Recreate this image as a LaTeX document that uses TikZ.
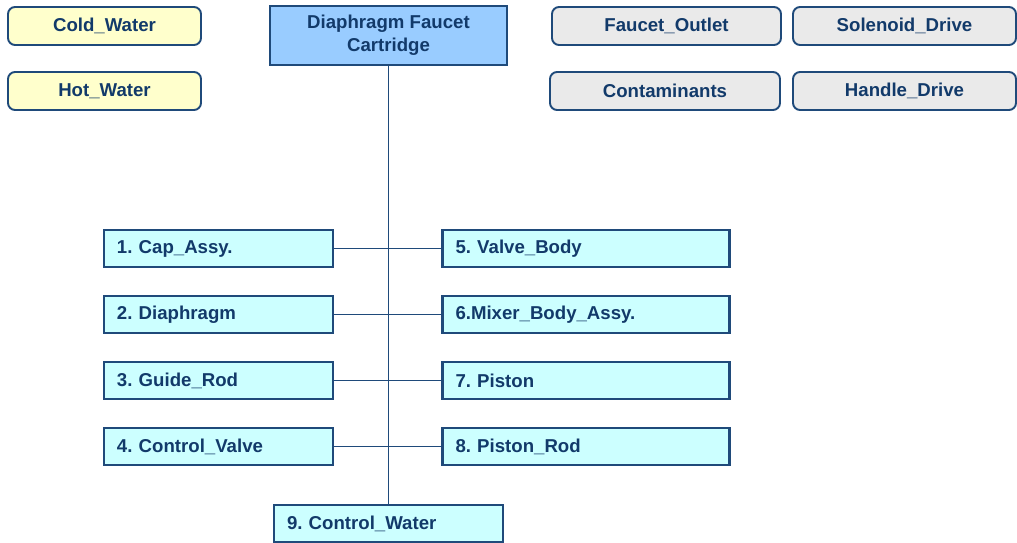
\documentclass[tikz,border=0pt]{standalone}
\usepackage{fontspec}
\setmainfont{Liberation Sans}
\usepackage{tikz}
\usepackage{xcolor}
\usetikzlibrary{positioning}

\definecolor{linec}{HTML}{1F4A7A}
\definecolor{textc}{HTML}{123A6A}
\definecolor{yellowfill}{HTML}{FFFFCC}
\definecolor{grayfill}{HTML}{EAEAEA}
\definecolor{cyanfill}{HTML}{CCFFFF}
\definecolor{cartfill}{HTML}{99CCFF}

\frenchspacing

\begin{document}
\begin{tikzpicture}[-,auto,node distance=1.32cm,
                    every node/.style={text=textc,font=\fontsize{10.6}{13}\selectfont\bfseries},
                    input node/.style={rectangle,rounded corners=4pt,draw=linec,line width=1.1pt,
                                       fill=yellowfill,minimum width=3.86cm,minimum height=0.76cm},
                    env node/.style={rectangle,rounded corners=4pt,draw=linec,line width=1.1pt,
                                     fill=grayfill,minimum width=#1,minimum height=0.76cm},
                    top node/.style={rectangle,draw=linec,line width=1.6pt,fill=cartfill,
                                     minimum width=4.74cm,minimum height=1.18cm,align=center},
                    part node/.style={rectangle,draw=linec,line width=1.2pt,fill=cyanfill,
                                      minimum height=0.74cm,text width=#1,align=left,inner xsep=0.26cm}]

  \useasboundingbox (0,0) rectangle (20.34,-10.86);

  \node[input node] (cold) at (2.09,-0.52) {Cold\_Water};
  \node[input node] (hot) at (2.09,-1.82) {Hot\_Water};
  \node[top node] (cart) at (7.77,-0.71) {Diaphragm Faucet\\Cartridge};
  \node[env node=4.58cm] (outlet) at (13.33,-0.52) {Faucet\_Outlet};
  \node[env node=4.46cm] (solenoid) at (18.09,-0.52) {Solenoid\_Drive};
  \node[env node=4.60cm] (contam) at (13.30,-1.82) {Contaminants};
  \node[env node=4.46cm] (handle) at (18.09,-1.82) {Handle\_Drive};

  \node[part node=4.06cm] (1) at (4.37,-4.97) {1. Cap\_Assy.};
  \node[part node=4.06cm] (2) [below of=1] {2. Diaphragm};
  \node[part node=4.06cm] (3) [below of=2] {3. Guide\_Rod};
  \node[part node=4.06cm] (4) [below of=3] {4. Control\_Valve};
  \node[part node=5.22cm] (5) [right of=1,node distance=7.35cm] {5. Valve\_Body};
  \node[part node=5.22cm] (6) [below of=5] {6.Mixer\_Body\_Assy.};
  \node[part node=5.22cm] (7) [below of=6] {7. Piston};
  \node[part node=5.22cm] (8) [below of=7] {8. Piston\_Rod};
  \node[part node=4.06cm] (9) at (7.77,-10.47) {9. Control\_Water};

  \path[draw=linec,line width=1.0pt]
    (cart) edge (9)
    (1) edge (5)
    (2) edge (6)
    (3) edge (7)
    (4) edge (8)
    ;
\end{tikzpicture}
\end{document}
